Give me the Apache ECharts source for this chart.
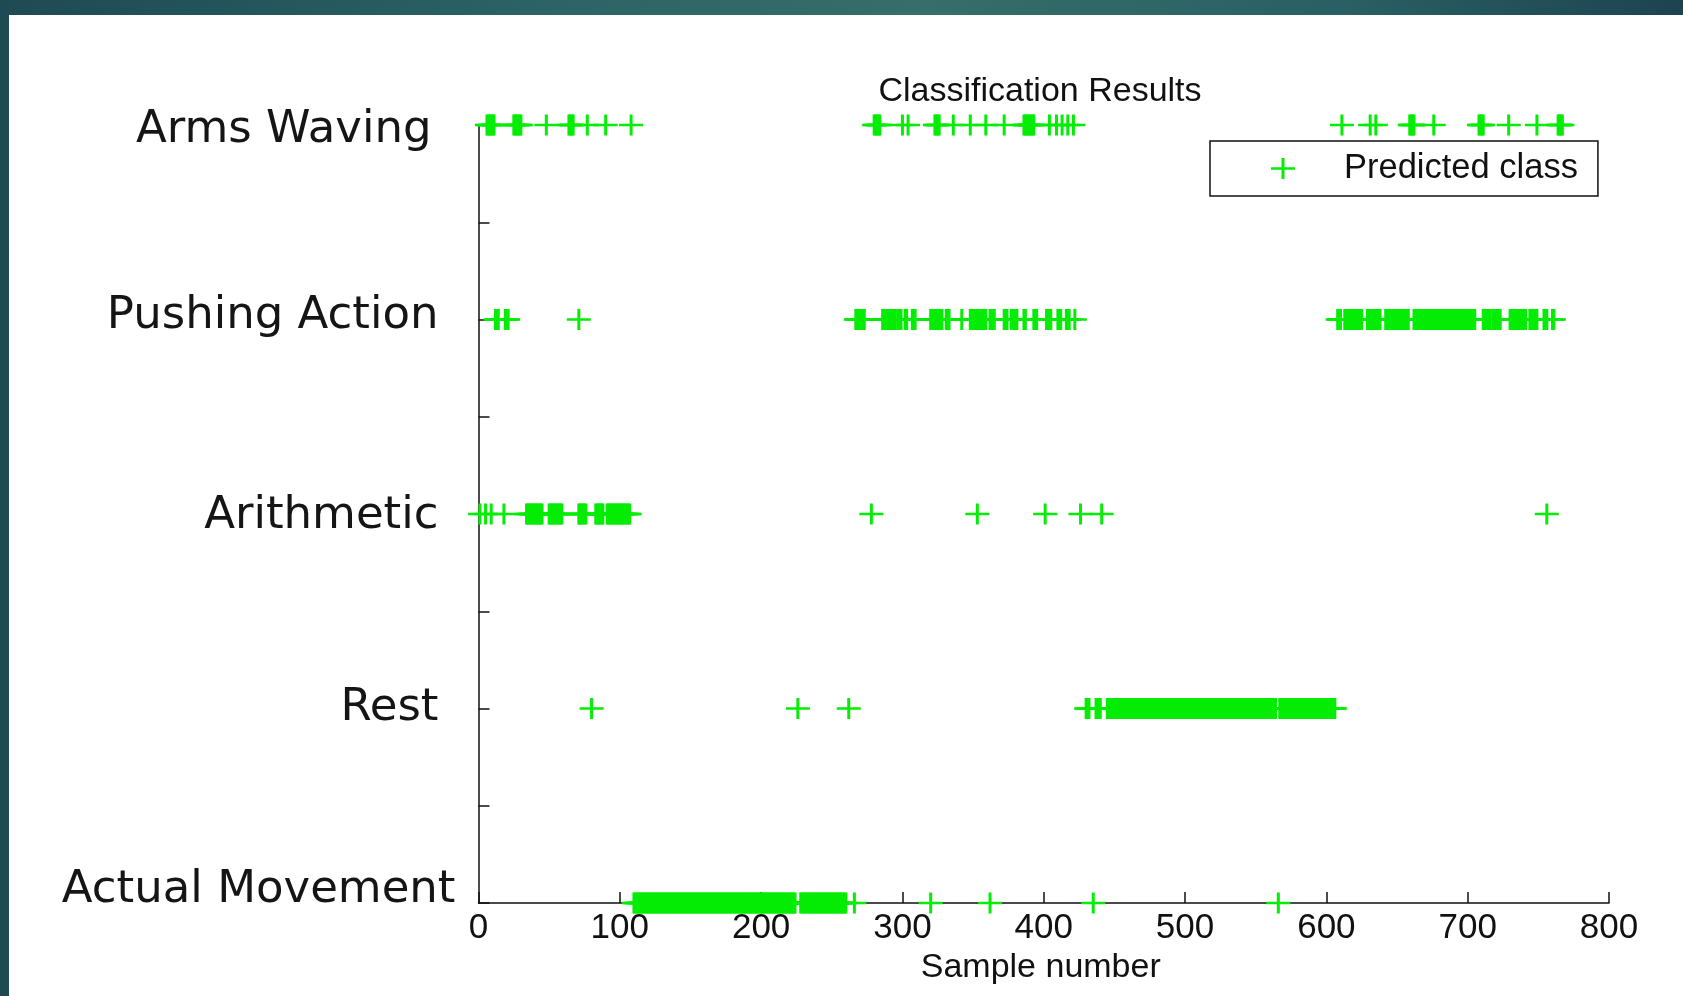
<!DOCTYPE html>
<html>
<head>
<meta charset="utf-8">
<script src="https://cdn.jsdelivr.net/npm/echarts@6/dist/echarts.min.js"></script>
<style>
  html, body { margin: 0; padding: 0; width: 1683px; height: 996px; overflow: hidden; }
  #frame { position: absolute; left: 0; top: 0; width: 1683px; height: 996px;
           background: linear-gradient(90deg, #1e4a54 0%, #2d6566 35%, #356e6a 55%, #2a5f63 80%, #1c4450 100%); }
  #chart { position: absolute; left: 9px; top: 15px; width: 1674px; height: 981px; background: #ffffff; }
</style>
</head>
<body>
<div id="frame"></div>
<div id="chart"></div>
<script>
// ---- data (sample-number runs [first, last] of each predicted class) ----
const classLabels = ['Actual Movement', 'Rest', 'Arithmetic', 'Pushing Action', 'Arms Waving'];
const xTicks = [0, 100, 200, 300, 400, 500, 600, 700, 800];

const actualMovementRuns = [[110,224],[228,260],[266,266],[320,320],[362,362],[435,435],[566,566]];
const restRuns = [[80,80],[226,226],[262,262],[430,432],[437,440],[445,564],[567,606]];
const arithmeticRuns = [[1,1],[5,5],[9,9],[18,18],[34,45],[50,59],[71,76],[83,88],[91,107],
                        [278,278],[353,353],[401,401],[426,426],[441,441],[756,756]];
const pushingRuns = [[12,14],[19,21],[71,71],
                     [267,273],[286,295],[297,299],[302,303],[307,309],[320,328],[331,333],[342,342],
                     [348,359],[362,365],[372,374],[377,381],[386,387],[393,395],[402,405],[410,412],
                     [416,418],[422,422],
                     [608,610],[613,625],[629,638],[642,658],[662,705],[711,716],[718,723],[730,741],
                     [744,749],[754,756],[760,761]];
const armsWavingRuns = [[6,11],[25,30],[48,48],[64,67],[77,77],[90,90],[108,108],
                        [280,284],[300,300],[304,304],[323,326],[336,336],[348,348],[359,359],[372,372],
                        [386,393],[404,404],[409,409],[413,413],[417,417],[421,421],
                        [611,611],[631,631],[635,635],[659,662],[676,676],[708,711],[729,729],[749,749],
                        [764,767]];

const classRuns = [actualMovementRuns, restRuns, arithmeticRuns, pushingRuns, armsWavingRuns];

// expand runs into individual samples (sample number, class index)
const points = [];
classRuns.forEach((runs, cls) => {
  runs.forEach(([a, b]) => { for (let s = a; s <= b; s++) points.push([s, cls]); });
});

const plusPath = 'path://M0,9.25h24v2.5h-24z M10.5,0h3v21h-3z';
const green = '#05ec05';
const tickFont = "'Liberation Sans Narrow', 'Liberation Sans', Arial, sans-serif";
const textFont = "'Liberation Sans', Arial, sans-serif";
const labelFont = "'DejaVu Sans', sans-serif";

// per-label nudges (top, right, bottom, left padding) so the class names sit as in the figure
const labelPads = [[0, 0, 26, 0], [0, 17, 0, 0], [4, 17, 0, 0], [0, 17, 6, 0], [10, 24, 0, 0]];
const labelRich = {};
labelPads.forEach((p, i) => {
  labelRich['c' + i] = { fontFamily: labelFont, fontSize: 45, color: '#151515', padding: p };
});

const chart = echarts.init(document.getElementById('chart'), null, { renderer: 'canvas' });
chart.setOption({
  animation: false,
  backgroundColor: '#ffffff',
  title: {
    text: 'Classification Results',
    left: 1026, textAlign: 'center', top: 55,
    textStyle: { fontFamily: textFont, fontSize: 34, fontWeight: 'normal', color: '#111' }
  },
  legend: {
    left: 1201, top: 126,
    padding: [10, 20, 10, 61],
    borderColor: '#111', borderWidth: 1.5, backgroundColor: '#fff',
    itemWidth: 24, itemHeight: 21,
    formatter: name => '{t|' + name + '}',
    textStyle: {
      rich: { t: { fontFamily: textFont, fontSize: 34.5, color: '#111', padding: [0, 0, 0, 44] } }
    },
    data: ['Predicted class']
  },
  grid: { left: 469.5, right: 74, top: 110, bottom: 93, containLabel: false },
  xAxis: {
    type: 'value', min: xTicks[0], max: xTicks[xTicks.length - 1], interval: 100,
    name: 'Sample number', nameLocation: 'middle', nameGap: 46,
    nameTextStyle: { fontFamily: textFont, fontSize: 34, color: '#111', padding: [0, 6, 0, 0] },
    axisLine: { show: true, lineStyle: { color: '#111', width: 1.5 } },
    axisTick: { show: true, inside: true, length: 11, lineStyle: { color: '#111', width: 1.5 } },
    axisLabel: { margin: 8, fontFamily: tickFont, fontSize: 35, color: '#111' },
    splitLine: { show: false }
  },
  yAxis: {
    type: 'value', min: 0, max: classLabels.length - 1, interval: 0.5,
    axisLine: { show: true, lineStyle: { color: '#111', width: 1.5 } },
    axisTick: { show: true, inside: true, length: 11, lineStyle: { color: '#111', width: 1.5 } },
    axisLabel: {
      margin: 23,
      formatter: v => Number.isInteger(v) ? '{c' + v + '|' + classLabels[v] + '}' : '',
      rich: labelRich
    },
    splitLine: { show: false }
  },
  series: [{
    name: 'Predicted class',
    type: 'scatter',
    symbol: plusPath,
    symbolSize: [24, 21],
    itemStyle: { color: green, opacity: 1 },
    clip: false,
    data: points
  }]
});
</script>
</body>
</html>
